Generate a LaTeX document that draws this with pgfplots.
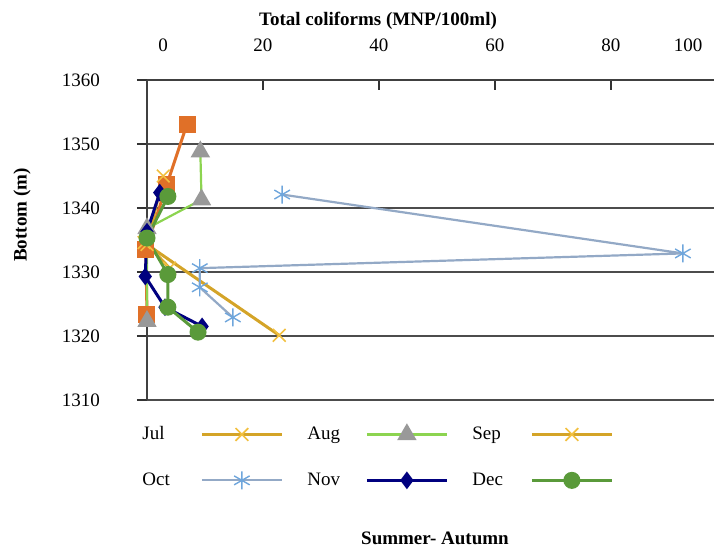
\documentclass[border=0pt]{standalone}
\usepackage{pgfplots}
\pgfplotsset{compat=1.18}
\usepackage{fontspec}
\setmainfont{Liberation Serif}
\definecolor{jun}{HTML}{E07028}
\definecolor{goldl}{HTML}{D4A428}
\definecolor{goldm}{HTML}{F2C040}
\definecolor{augl}{HTML}{8CD450}
\definecolor{augm}{HTML}{999999}
\definecolor{octl}{HTML}{93A9C6}
\definecolor{octm}{HTML}{6FA6DC}
\definecolor{nov}{HTML}{00007F}
\definecolor{dec}{HTML}{5A9A3A}
\begin{document}
\begin{tikzpicture}
\path[use as bounding box] (-73.5pt,-74.5pt) rectangle (283.5pt,200pt);
\begin{axis}[
  scale only axis, width=283.5pt, height=160pt,
  xmin=0, xmax=97.76, ymin=1310, ymax=1360,
  clip=false,
  axis x line*=top, axis y line*=left,
  axis line style={black!75, line width=1.1pt},
  xtick={0,20,40,60,80}, xticklabels={,20,40,60,80},
  extra x ticks={2.76,93.3}, extra x tick labels={0,100},
  extra x tick style={grid=none, tick style={draw=none}},
  xtick align=inside, ytick align=outside, major tick length=5pt,
  ytick={1310,1320,...,1360},
  tick style={black!80, line width=0.8pt},
  ymajorgrids,
  grid style={black!70, line width=1.1pt},
  /pgf/number format/1000 sep={},
  /pgf/number format/assume math mode=true,
  tick label style={font=\fontsize{9.5}{11}\selectfont},
  xticklabel style={yshift=10.5pt},
  yticklabel style={xshift=-15pt},
  xlabel={Total coliforms (MNP/100ml)},
  xlabel style={font=\fontsize{9.5}{11}\selectfont\bfseries, at={(rel axis cs:0.4074,1)}, anchor=center, yshift=29.5pt},
  ylabel={Bottom (m)},
  ylabel style={font=\fontsize{9.5}{11}\selectfont\bfseries, at={(rel axis cs:-0.2205,0.578)}, anchor=center},
  legend plot pos=right,
  legend columns=3,
  legend cell align=left,
  legend style={at={(rel axis cs:0,0)}, anchor=north west, xshift=-7.5pt, yshift=-9pt,
    draw=none, fill=none, font=\fontsize{9.5}{11}\selectfont,
    nodes={text width=27pt, anchor=west},
    /tikz/every even column/.append style={column sep=10pt},
    row sep=11pt},
  legend image code/.code={
    \draw[mark repeat=2,mark phase=2,#1] plot coordinates {(0pt,0pt) (20pt,0pt) (40pt,0pt)};
  },
]
% orange squares series (not in legend)
\addplot[jun, line width=1.5pt, mark=square*, mark size=3.5pt, forget plot]
  coordinates {(6.9,1353.1) (3.4,1343.6) (-0.2,1333.5) (0,1323.4)};
% Jul
\addplot[goldl, line width=1.5pt, mark=x, mark size=4.5pt, mark options={goldm, line width=0.8pt}]
  coordinates {(2.8,1345.0) (0,1334.3) (3.9,1330.6)};
\addlegendentry{Jul}
% Aug
\addplot[augl, line width=1.1pt, mark=triangle*, mark size=4.5pt, mark options={augm, draw=augm}]
  coordinates {(9.2,1348.8) (9.4,1341.3) (0,1336.8) (0,1322.3)};
\addlegendentry{Aug}
% Sep
\addplot[goldl, line width=1.5pt, mark=x, mark size=4.5pt, mark options={goldm, line width=0.8pt}]
  coordinates {(-0.5,1334.6) (22.8,1320.1)};
\addlegendentry{Sep}
% Oct
\addplot[octl, line width=1.1pt, mark=asterisk, mark size=4.5pt, mark options={octm, line width=0.7pt}]
  coordinates {(23.3,1342.1) (92.4,1332.9) (9.1,1330.6) (9.1,1327.6) (14.8,1322.9)};
\addlegendentry{Oct}
% Nov
\addplot[nov, line width=1.5pt, mark=diamond*, mark size=3.2pt]
  coordinates {(2.2,1342.4) (0,1336.3) (-0.3,1329.3) (3.1,1324.5) (9.5,1321.5)};
\addlegendentry{Nov}
% Dec
\addplot[dec, line width=1.5pt, mark=*, mark size=3.5pt]
  coordinates {(3.6,1341.8) (0,1335.3) (3.6,1329.6) (3.6,1324.5) (8.8,1320.6)};
\addlegendentry{Dec}
\end{axis}
\node[font=\fontsize{9.5}{11}\selectfont\bfseries] at (144pt,-69pt) {Summer- Autumn};
\end{tikzpicture}
\end{document}
